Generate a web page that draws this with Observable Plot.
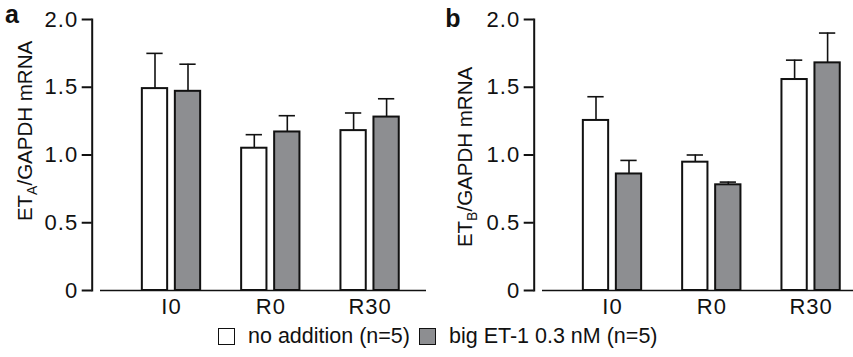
<!DOCTYPE html>
<html>
<head>
<meta charset="utf-8">
<script src="https://cdn.jsdelivr.net/npm/d3@7"></script>
<script src="https://cdn.jsdelivr.net/npm/@observablehq/plot@0.6"></script>
<style>
  html, body { margin: 0; padding: 0; background: #fff; }
  body { width: 853px; height: 357px; overflow: hidden; font-family: "Liberation Sans", Arial, sans-serif; color: #111; }
  #row { display: flex; flex-direction: row; height: 320px; }
  #row svg { flex: none; }
  #legend { display: flex; align-items: center; height: 37px; padding-left: 218px; font-size: 21.5px; box-sizing: border-box; padding-bottom: 4px; }
  .sw { width: 17px; height: 17px; border: 1.5px solid #111; box-sizing: border-box; display: inline-block; }
</style>
</head>
<body>
<div id="row"></div>
<div id="legend"></div>
<script>
// ---- data ----
const categories = ["I0", "R0", "R30"];
const seriesNames = ["no addition (n=5)", "big ET-1 0.3 nM (n=5)"];
const seriesFill = ["#ffffff", "#8d8e91"];
const yTicks = [0, 0.5, 1.0, 1.5, 2.0];

// panel a: ETA/GAPDH mRNA (mean, mean + error)
const aNoAddition = [1.49, 1.05, 1.18];
const aNoAdditionUpper = [1.75, 1.15, 1.31];
const aBigET1 = [1.47, 1.17, 1.28];
const aBigET1Upper = [1.67, 1.29, 1.415];

// panel b: ETB/GAPDH mRNA
const bNoAddition = [1.255, 0.947, 1.557];
const bNoAdditionUpper = [1.43, 1.00, 1.70];
const bBigET1 = [0.86, 0.78, 1.68];
const bBigET1Upper = [0.96, 0.80, 1.90];

const ink = "#111111";
const fontStack = '"Liberation Sans", Arial, sans-serif';

function rows(noAdd, noAddUp, big, bigUp) {
  const out = [];
  categories.forEach((c, i) => {
    out.push({cat: c, series: 0, value: noAdd[i], upper: noAddUp[i]});
    out.push({cat: c, series: 1, value: big[i], upper: bigUp[i]});
  });
  return out;
}

function panel({data, width, marginLeft, c0, letter, letterX, letterY, sub, labelX, labelY}) {
  const step = 99.3;
  const r0 = c0 - step / 2;
  const s0 = data.filter(d => d.series === 0);
  const s1 = data.filter(d => d.series === 1);
  const plot = Plot.plot({
    width, height: 320,
    marginTop: 19, marginBottom: 30, marginLeft, marginRight: 0,
    style: {fontFamily: fontStack, fontSize: "22px", color: ink, background: "white", overflow: "visible"},
    x: {type: "band", domain: categories, range: [r0, r0 + 3 * step], padding: 0, round: false},
    y: {domain: [0, 2]},
    marks: [
      Plot.ruleX(s0, {x: "cat", y1: "value", y2: "upper", dx: -16.5, stroke: ink, strokeWidth: 1.6}),
      Plot.ruleX(s1, {x: "cat", y1: "value", y2: "upper", dx: 16.5, stroke: ink, strokeWidth: 1.6}),
      Plot.tickY(s0, {x: "cat", y: "upper", insetLeft: 25, insetRight: 58, stroke: ink, strokeWidth: 1.6}),
      Plot.tickY(s1, {x: "cat", y: "upper", insetLeft: 58, insetRight: 25, stroke: ink, strokeWidth: 1.6}),
      Plot.barY(s0, {x: "cat", y: "value", insetLeft: 20.5, insetRight: 53.5, fill: seriesFill[0], stroke: ink, strokeWidth: 2}),
      Plot.barY(s1, {x: "cat", y: "value", insetLeft: 53.5, insetRight: 20.5, fill: seriesFill[1], stroke: ink, strokeWidth: 2}),
      Plot.ruleY([0], {stroke: ink, strokeWidth: 1.3}),
      Plot.frame({anchor: "left", dx: -8.3, stroke: ink, strokeWidth: 2}),
      Plot.axisY({ticks: yTicks, tickFormat: d => d === 0 ? "0" : d.toFixed(1), tickSize: 10, tickPadding: 4, dx: -8.3, label: null, strokeWidth: 2, stroke: ink, fill: ink, fontSize: 22}),
      Plot.axisX({tickSize: 0, tickPadding: 8, label: null, fill: ink, fontSize: 22})
    ]
  });
  const svg = d3.select(plot);
  svg.selectAll('g[aria-label="y-axis tick label"] text, g[aria-label="x-axis tick label"] text')
    .style("font-size", "22px").style("font-family", fontStack).style("letter-spacing", "1px");
  svg.append("text")
    .attr("x", letterX).attr("y", letterY)
    .attr("font-size", 25).attr("font-weight", "bold").attr("fill", ink)
    .attr("font-family", fontStack)
    .text(letter);
  const t = svg.append("text")
    .attr("transform", `translate(${labelX},${labelY}) rotate(-90)`)
    .attr("text-anchor", "middle").attr("font-size", 20.5).attr("fill", ink)
    .attr("font-family", fontStack);
  t.append("tspan").text("ET");
  t.append("tspan").attr("font-size", 14).attr("dy", 5).text(sub);
  t.append("tspan").attr("dy", -5).text("/GAPDH mRNA");
  return plot;
}

const row = document.getElementById("row");
row.append(panel({
  data: rows(aNoAddition, aNoAdditionUpper, aBigET1, aBigET1Upper),
  width: 426, marginLeft: 100, c0: 171, letter: "a", letterX: 12, letterY: 23, sub: "A", labelX: 32, labelY: 131
}));
row.append(panel({
  data: rows(bNoAddition, bNoAdditionUpper, bBigET1, bBigET1Upper),
  width: 427, marginLeft: 116, c0: 186, letter: "b", letterX: 27, letterY: 27, sub: "B", labelX: 46, labelY: 157
}));

// legend
const legend = document.getElementById("legend");
seriesNames.forEach((name, i) => {
  const sw = document.createElement("span");
  sw.className = "sw";
  sw.style.background = seriesFill[i];
  sw.style.marginRight = "13px";
  const tx = document.createElement("span");
  tx.textContent = name;
  tx.style.marginRight = i === 0 ? "9px" : "0";
  legend.append(sw, tx);
});
</script>
</body>
</html>
